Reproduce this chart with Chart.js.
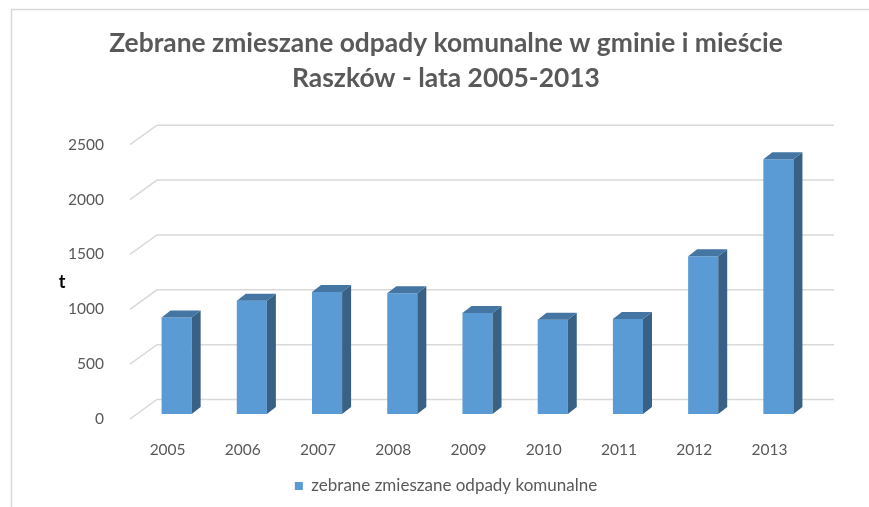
<!DOCTYPE html>
<html>
<head>
<meta charset="utf-8">
<script src="https://cdn.jsdelivr.net/npm/chart.js@4.4.1/dist/chart.umd.min.js"></script>
<style>
html,body{margin:0;padding:0;background:#fff;}
#wrap{width:869px;height:507px;position:relative;}
canvas{display:block;}
</style>
</head>
<body>
<div id="wrap"><canvas id="c" width="869" height="507"></canvas></div>
<script>
const years = ['2005','2006','2007','2008','2009','2010','2011','2012','2013'];
const values = [880, 1032, 1113, 1101, 920, 860, 866, 1439, 2323];
const seriesName = 'zebrane zmieszane odpady komunalne';
const titleLines = ['Zebrane zmieszane odpady komunalne w gminie i mieście', 'Raszków - lata 2005-2013'];
const unitLabel = 't';
const yMin = 0, yMax = 2500, yStep = 500;

const GRID = '#d9d9d9';
const TXT = '#595959';
const FRONT = '#5b9bd5';
const SIDE = '#386185';
const TOP = '#4475a3';

const framePlugin = {
  id: 'frame',
  beforeDraw(chart) {
    const ctx = chart.ctx;
    ctx.save();
    ctx.fillStyle = '#ffffff';
    ctx.fillRect(0, 0, chart.width, chart.height);
    ctx.strokeStyle = GRID;
    ctx.lineWidth = 1.5;
    ctx.beginPath();
    ctx.moveTo(11.5, chart.height);
    ctx.lineTo(11.5, 9.5);
    ctx.lineTo(chart.width, 9.5);
    ctx.stroke();
    ctx.restore();
  }
};

const wallPlugin = {
  id: 'wall',
  beforeDatasetsDraw(chart) {
    const ctx = chart.ctx, ys = chart.scales.y, a = chart.chartArea;
    ctx.save();
    ctx.strokeStyle = GRID;
    ctx.lineWidth = 1.5;
    ys.ticks.forEach(t => {
      const yb = ys.getPixelForValue(t.value);
      ctx.beginPath();
      ctx.moveTo(a.left - 9, yb + 5);
      ctx.lineTo(a.left + 18, yb - 14.5);
      ctx.lineTo(a.right + 18, yb - 14.5);
      ctx.stroke();
    });
    ctx.fillStyle = '#000';
    ctx.font = 'bold 18px Lato';
    ctx.textAlign = 'center';
    ctx.textBaseline = 'middle';
    ctx.fillText(unitLabel, 62, 282);
    ctx.restore();
  },
  afterDatasetsDraw(chart) {
    const ctx = chart.ctx;
    const meta = chart.getDatasetMeta(0);
    const dx = 9, dy = -7;
    ctx.save();
    meta.data.forEach(bar => {
      const p = bar.getProps(['x','y','base','width'], true);
      const l = p.x - p.width/2, r = p.x + p.width/2, top = p.y, base = p.base;
      ctx.fillStyle = SIDE;
      ctx.beginPath();
      ctx.moveTo(r, top); ctx.lineTo(r+dx, top+dy); ctx.lineTo(r+dx, base+dy); ctx.lineTo(r, base);
      ctx.closePath(); ctx.fill();
      ctx.fillStyle = TOP;
      ctx.beginPath();
      ctx.moveTo(l, top); ctx.lineTo(l+dx, top+dy); ctx.lineTo(r+dx, top+dy); ctx.lineTo(r, top);
      ctx.closePath(); ctx.fill();
    });
    ctx.restore();
  }
};

new Chart(document.getElementById('c'), {
  type: 'bar',
  data: {
    labels: years,
    datasets: [{
      label: seriesName,
      data: values,
      backgroundColor: FRONT,
      borderWidth: 0,
      barPercentage: 0.4,
      categoryPercentage: 1.0
    }]
  },
  options: {
    responsive: false,
    animation: false,
    layout: { padding: { left: 23, right: 0, top: 9, bottom: 2.5 } },
    plugins: {
      title: {
        display: true,
        text: titleLines,
        color: TXT,
        font: { family: 'Lato', size: 26.4, weight: 'bold', lineHeight: 1.33 },
        padding: { top: 17, bottom: 43.5 }
      },
      legend: {
        position: 'bottom',
        labels: {
          color: TXT,
          font: { family: 'Lato', size: 17 },
          boxWidth: 8,
          boxHeight: 8,
          padding: 9
        }
      },
      tooltip: { enabled: false }
    },
    scales: {
      x: {
        grid: { display: false },
        border: { display: false },
        ticks: { color: TXT, font: { family: 'Lato', size: 15.5 }, labelOffset: -9, padding: 19, maxRotation: 0 },
        afterFit: s => { s.height = 54.5; }
      },
      y: {
        min: yMin, max: yMax,
        grid: { display: false },
        border: { display: false },
        ticks: { stepSize: yStep, color: TXT, font: { family: 'Lato', size: 15.5 }, labelOffset: 5, padding: 27,
                 callback: v => String(v) },
        afterFit: s => { s.width = 116; }
      },
      yR: {
        position: 'right',
        display: true,
        grid: { display: false },
        border: { display: false },
        ticks: { display: false },
        afterFit: s => { s.width = 53; }
      }
    }
  },
  plugins: [framePlugin, wallPlugin]
});
</script>
</body>
</html>
